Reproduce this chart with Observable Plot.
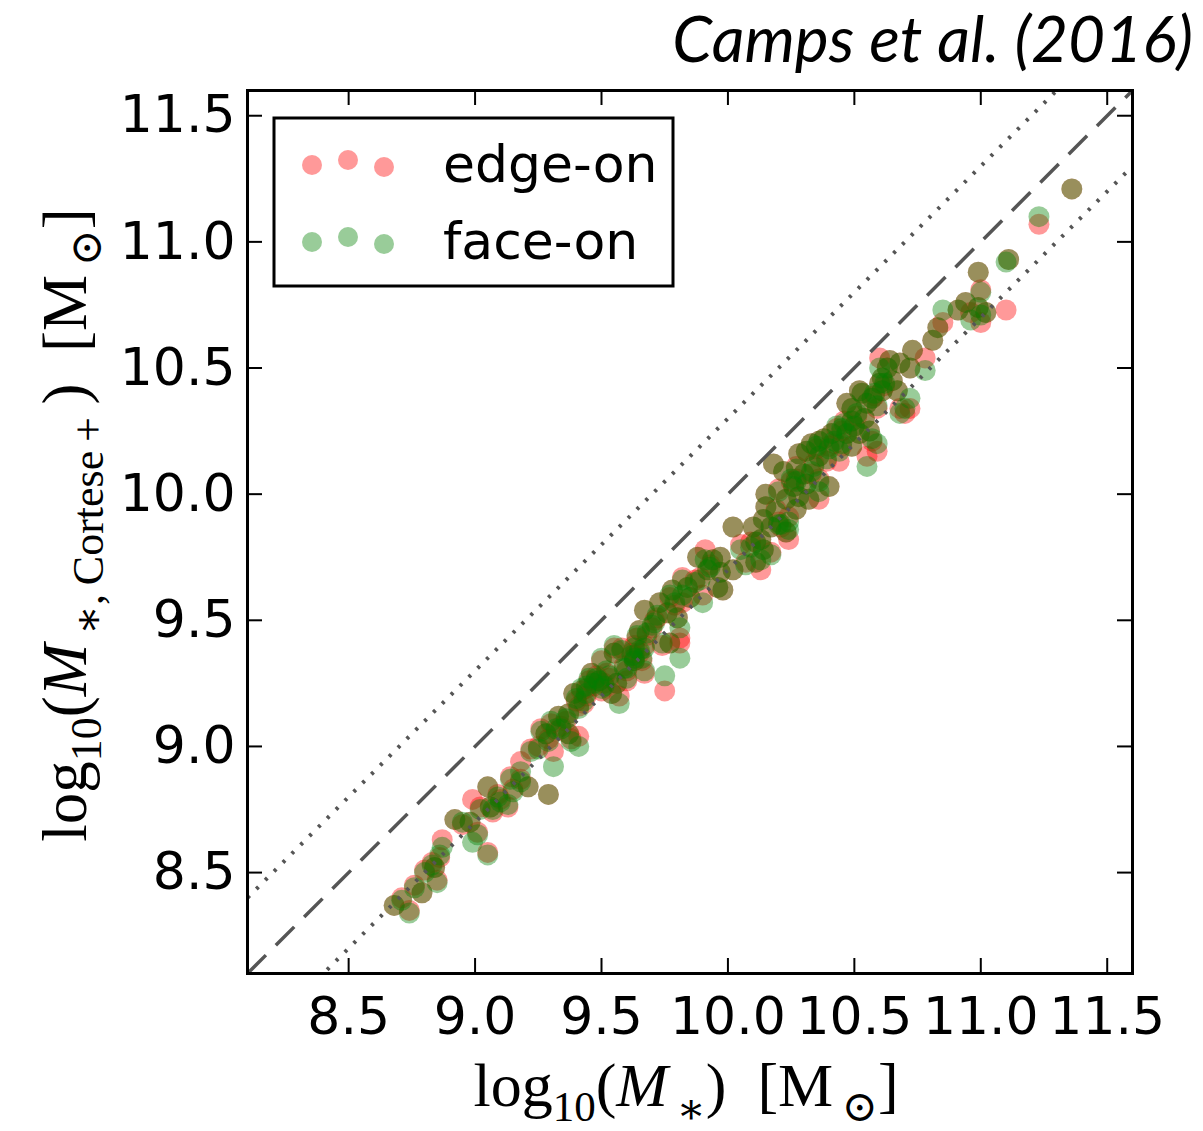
<!DOCTYPE html>
<html>
<head>
<meta charset="utf-8">
<script src="https://cdn.jsdelivr.net/npm/d3@7"></script>
<script src="https://cdn.jsdelivr.net/npm/@observablehq/plot@0.6"></script>
<style>
  html, body { margin: 0; padding: 0; background: #fff; }
  #chart svg { display: block; }
</style>
</head>
<body>
<div id="chart"></div>
<script>
// log10(M*) of each galaxy
const stellarMass = [
  8.68, 8.71, 8.74, 8.76, 8.79, 8.80, 8.85, 8.84, 8.86, 8.87,
  8.92, 8.98, 8.99, 9.01, 9.05, 9.06, 9.07, 9.05, 9.13, 9.15,
  9.21, 9.29, 9.14, 9.18, 9.22, 9.25, 9.29, 9.31, 9.34, 9.30,
  9.37, 9.41, 9.38, 9.37, 9.41, 9.43, 9.42, 9.45, 9.48, 9.52,
  9.54, 9.57, 9.56, 9.60, 9.59, 9.63, 9.65, 9.67, 9.55, 9.63,
  9.75, 9.74, 9.81, 9.58, 9.55, 9.63, 9.66, 9.67, 9.70, 9.65,
  9.64, 9.77, 9.67, 9.72, 9.76, 9.80, 9.81, 9.73, 9.77, 9.82,
  9.90, 9.85, 9.78, 9.84, 9.82, 9.89, 9.92, 9.97, 9.96, 9.98,
  9.91, 9.88, 9.94, 10.02, 10.07, 10.11, 10.13, 10.11, 10.14, 10.02,
  10.10, 10.21, 10.24, 10.13, 10.09, 10.17, 10.05, 9.97, 10.20, 10.17,
  10.14, 10.23, 10.24, 10.15, 10.15, 10.19, 10.20, 10.18, 10.22, 10.23,
  10.27, 10.28, 10.32, 10.36, 10.26, 10.27, 10.31, 10.40, 10.27, 10.30,
  10.33, 10.36, 10.28, 10.31, 10.33, 10.36, 10.36, 10.39, 10.40, 10.44,
  10.49, 10.41, 10.43, 10.47, 10.49, 10.52, 10.56, 10.57, 10.59, 10.55,
  10.49, 10.59, 10.68, 10.70, 10.72, 10.52, 10.53, 10.47, 10.57, 10.55,
  10.60, 10.61, 10.61, 10.65, 10.67, 10.60, 10.63, 10.64, 10.68, 10.72,
  10.73, 10.78, 10.81, 10.83, 10.85, 10.91, 10.94, 10.96, 10.99, 11.00,
  11.02, 11.00, 10.99, 11.11, 11.10, 11.23, 11.36,
  9.39, 9.46, 9.50, 9.33, 9.26, 9.50, 9.18, 9.10,
  9.40, 9.44, 9.47, 9.49, 9.51, 9.53, 9.44, 9.36, 9.32, 9.28,
  9.60, 9.62, 9.68, 9.71, 9.79, 9.87, 9.93, 10.35, 10.38, 10.42,
  10.45, 10.46, 10.50, 10.51, 10.54, 10.45, 10.58, 10.62, 10.34, 10.25,
  9.02, 9.09, 8.83, 8.95
];
// log10(M*, Cortese+) measured edge-on
const edgeOnMass = [
  8.37, 8.40, 8.35, 8.45, 8.42, 8.51, 8.47, 8.52, 8.56, 8.63,
  8.71, 8.70, 8.79, 8.66, 8.58, 8.76, 8.74, 8.84, 8.76, 8.83,
  8.84, 8.81, 8.88, 8.94, 8.99, 9.00, 9.03, 8.98, 9.08, 9.09,
  9.05, 9.04, 9.03, 9.13, 9.16, 9.17, 9.22, 9.26, 9.28, 9.29,
  9.21, 9.20, 9.25, 9.26, 9.32, 9.34, 9.37, 9.29, 9.39, 9.40,
  9.22, 9.40, 9.41, 9.39, 9.37, 9.36, 9.34, 9.40, 9.47, 9.46,
  9.43, 9.41, 9.54, 9.51, 9.53, 9.51, 9.43, 9.57, 9.59, 9.57,
  9.60, 9.59, 9.62, 9.63, 9.67, 9.67, 9.70, 9.69, 9.63, 9.62,
  9.78, 9.75, 9.74, 9.70, 9.73, 9.73, 9.70, 9.81, 9.78, 9.87,
  9.87, 9.87, 9.91, 9.82, 9.81, 9.77, 9.80, 9.75, 9.89, 9.87,
  9.90, 9.85, 9.82, 10.00, 9.95, 9.94, 10.02, 10.12, 10.09, 9.98,
  9.94, 9.99, 9.98, 9.98, 10.03, 10.06, 10.04, 10.03, 10.11, 10.08,
  10.08, 10.06, 10.16, 10.17, 10.20, 10.21, 10.15, 10.13, 10.19, 10.13,
  10.19, 10.24, 10.26, 10.24, 10.29, 10.24, 10.25, 10.21, 10.17, 10.15,
  10.34, 10.34, 10.34, 10.32, 10.34, 10.41, 10.40, 10.36, 10.38, 10.36,
  10.44, 10.41, 10.46, 10.45, 10.41, 10.54, 10.50, 10.53, 10.52, 10.50,
  10.57, 10.54, 10.61, 10.66, 10.68, 10.73, 10.76, 10.72, 10.74, 10.68,
  10.72, 10.81, 10.88, 10.93, 10.73, 11.07, 11.21,
  9.21, 9.29, 9.22, 9.12, 9.07, 9.34, 8.87, 8.79,
  9.18, 9.20, 9.24, 9.26, 9.25, 9.27, 9.23, 9.10, 9.06, 9.05,
  9.30, 9.37, 9.44, 9.50, 9.56, 9.66, 9.72, 10.18, 10.22, 10.20,
  10.25, 10.29, 10.27, 10.31, 10.30, 10.19, 10.39, 10.43, 10.12, 10.05,
  8.76, 8.81, 8.54, 8.69
];
// log10(M*, Cortese+) measured face-on
const faceOnMass = [
  8.37, 8.39, 8.34, 8.44, 8.42, 8.50, 8.46, 8.52, 8.57, 8.60,
  8.71, 8.70, 8.62, 8.65, 8.57, 8.76, 8.75, 8.84, 8.77, 8.82,
  8.84, 8.81, 8.87, 8.90, 8.98, 8.99, 9.02, 8.92, 9.07, 9.10,
  9.05, 9.00, 9.02, 9.13, 9.15, 9.18, 9.23, 9.27, 9.27, 9.30,
  9.21, 9.17, 9.25, 9.27, 9.31, 9.34, 9.38, 9.30, 9.40, 9.39,
  9.28, 9.41, 9.35, 9.38, 9.37, 9.35, 9.35, 9.39, 9.48, 9.46,
  9.44, 9.41, 9.54, 9.52, 9.53, 9.51, 9.47, 9.57, 9.60, 9.60,
  9.57, 9.59, 9.62, 9.63, 9.66, 9.66, 9.70, 9.69, 9.63, 9.62,
  9.74, 9.75, 9.74, 9.70, 9.72, 9.73, 9.74, 9.81, 9.78, 9.87,
  9.87, 9.88, 9.89, 9.82, 9.79, 9.76, 9.78, 9.75, 9.88, 9.87,
  9.90, 9.85, 9.86, 10.00, 9.95, 9.93, 10.01, 10.12, 10.09, 9.98,
  9.94, 9.99, 9.98, 10.01, 10.03, 10.05, 10.04, 10.03, 10.10, 10.08,
  10.09, 10.05, 10.16, 10.17, 10.20, 10.21, 10.15, 10.14, 10.18, 10.17,
  10.19, 10.24, 10.27, 10.24, 10.29, 10.24, 10.25, 10.22, 10.20, 10.11,
  10.34, 10.35, 10.32, 10.34, 10.38, 10.41, 10.40, 10.36, 10.38, 10.36,
  10.44, 10.41, 10.46, 10.45, 10.41, 10.50, 10.50, 10.53, 10.52, 10.50,
  10.57, 10.49, 10.61, 10.66, 10.73, 10.73, 10.76, 10.69, 10.74, 10.71,
  10.72, 10.80, 10.88, 10.93, 10.92, 11.10, 11.21,
  9.21, 9.29, 9.23, 9.12, 9.06, 9.35, 8.86, 8.78,
  9.19, 9.21, 9.25, 9.26, 9.24, 9.28, 9.24, 9.11, 9.07, 9.05,
  9.31, 9.36, 9.45, 9.49, 9.57, 9.65, 9.71, 10.19, 10.22, 10.21,
  10.26, 10.28, 10.27, 10.32, 10.30, 10.20, 10.40, 10.44, 10.11, 10.06,
  8.75, 8.80, 8.53, 8.70
];
const xTicks = [8.5, 9.0, 9.5, 10.0, 10.5, 11.0, 11.5];
const yTicks = [8.5, 9.0, 9.5, 10.0, 10.5, 11.0, 11.5];
const axisDomain = [8.1, 11.6];
const identityOffset = [0];
const dottedOffsets = [0.3, -0.3];
const seriesNames = ["edge-on", "face-on"];
const seriesColors = ["red", "green"];
const titleText = "Camps et al. (2016)";

const galaxies = stellarMass.map((m, i) => ({mass: m, edge: edgeOnMass[i], face: faceOnMass[i]}));

const W = 1203, H = 1131;
const mL = 247, mR = 71, mT = 90, mB = 158;
const plotH = H - mT - mB, plotW = W - mL - mR;
const tickLen = 15;
const sans = "DejaVu Sans";
const fmt = d3.format(".1f");

const chart = Plot.plot({
  width: W,
  height: H,
  marginLeft: mL,
  marginRight: mR,
  marginTop: mT,
  marginBottom: mB,
  x: {domain: axisDomain},
  y: {domain: axisDomain},
  style: {background: "white", fontFamily: sans},
  marks: [
    Plot.dot(galaxies, {x: "mass", y: "edge", r: 10.5, fill: seriesColors[0], fillOpacity: 0.4, stroke: "none"}),
    Plot.dot(galaxies, {x: "mass", y: "face", r: 10.5, fill: seriesColors[1], fillOpacity: 0.4, stroke: "none"}),
    Plot.link(identityOffset, {
      x1: () => axisDomain[0], y1: d => axisDomain[0] + d,
      x2: () => axisDomain[1], y2: d => axisDomain[1] + d,
      stroke: "#555", strokeWidth: 3.5, strokeDasharray: "26,14", clip: true
    }),
    Plot.link(dottedOffsets, {
      x1: () => axisDomain[0], y1: d => axisDomain[0] + d,
      x2: () => axisDomain[1], y2: d => axisDomain[1] + d,
      stroke: "#555", strokeWidth: 4, strokeDasharray: "3,9.5", clip: true
    }),
    // inward ticks on all four sides
    Plot.tickX(xTicks, {x: d => d, insetTop: plotH - tickLen, stroke: "black", strokeWidth: 2}),
    Plot.tickX(xTicks, {x: d => d, insetBottom: plotH - tickLen, stroke: "black", strokeWidth: 2}),
    Plot.tickY(yTicks, {y: d => d, insetRight: plotW - tickLen, stroke: "black", strokeWidth: 2}),
    Plot.tickY(yTicks, {y: d => d, insetLeft: plotW - tickLen, stroke: "black", strokeWidth: 2}),
    Plot.axisX(xTicks, {tickSize: 0, tickPadding: 24, fontSize: 52, tickFormat: fmt, label: null, fill: "black"}),
    Plot.axisY(yTicks, {tickSize: 0, tickPadding: 12, fontSize: 52, tickFormat: fmt, label: null, fill: "black"}),
    Plot.frame({stroke: "black", strokeWidth: 3})
  ]
});

document.getElementById("chart").appendChild(chart);

const svg = d3.select(chart);
const serif = "'Liberation Serif', 'DejaVu Serif', serif";

// title
svg.append("text")
  .attr("x", 1193).attr("y", 62)
  .attr("text-anchor", "end")
  .attr("font-family", "Lato, 'Open Sans', sans-serif")
  .attr("font-style", "italic")
  .attr("font-size", 64)
  .attr("fill", "black")
  .text(titleText);

// x label
const xl = svg.append("text")
  .attr("x", 686).attr("y", 1106)
  .attr("text-anchor", "middle")
  .attr("font-family", serif)
  .attr("font-size", 62)
  .attr("fill", "black");
xl.append("tspan").text("log");
xl.append("tspan").attr("font-size", 43).attr("dy", 15).text("10");
xl.append("tspan").attr("dy", -15).text("(");
xl.append("tspan").attr("font-style", "italic").text("M");
xl.append("tspan").attr("font-size", 43).attr("dy", 17).text("\u2009\u2217");
xl.append("tspan").attr("dy", -17).text(")\u2002[M");
xl.append("tspan").attr("font-size", 43).attr("dy", 15).text("\u2009\u2299");
xl.append("tspan").attr("dy", -15).text("]");

// y label
const yl = svg.append("text")
  .attr("transform", "translate(86,525) rotate(-90)")
  .attr("text-anchor", "middle")
  .attr("font-family", serif)
  .attr("font-size", 63)
  .attr("fill", "black");
yl.append("tspan").text("log");
yl.append("tspan").attr("font-size", 44).attr("dy", 15).text("10");
yl.append("tspan").attr("dy", -15).text("(");
yl.append("tspan").attr("font-style", "italic").text("M");
yl.append("tspan").attr("font-size", 44).attr("dy", 17).text("\u2009\u2217,\u2009Cortese\u2009+");
yl.append("tspan").attr("dy", -17).text("\u2009)\u2002[M");
yl.append("tspan").attr("font-size", 44).attr("dy", 15).text("\u2009\u2299");
yl.append("tspan").attr("dy", -15).text("]");

// legend
const lg = svg.append("g");
lg.append("rect").attr("x", 274).attr("y", 118).attr("width", 399).attr("height", 168)
  .attr("fill", "white").attr("stroke", "black").attr("stroke-width", 3);
const dotDx = [312, 348, 384];
const dotDy = [0, -5, 2];
seriesNames.forEach((name, i) => {
  const cy = 165 + i * 77;
  dotDx.forEach((cx, j) => {
    lg.append("circle").attr("cx", cx).attr("cy", cy + dotDy[j]).attr("r", 10)
      .attr("fill", seriesColors[i]).attr("fill-opacity", 0.4);
  });
  lg.append("text").attr("x", 443).attr("y", cy + 17)
    .attr("text-anchor", "start")
    .attr("font-family", sans).attr("font-size", 52).attr("fill", "black")
    .text(name);
});
</script>
</body>
</html>
